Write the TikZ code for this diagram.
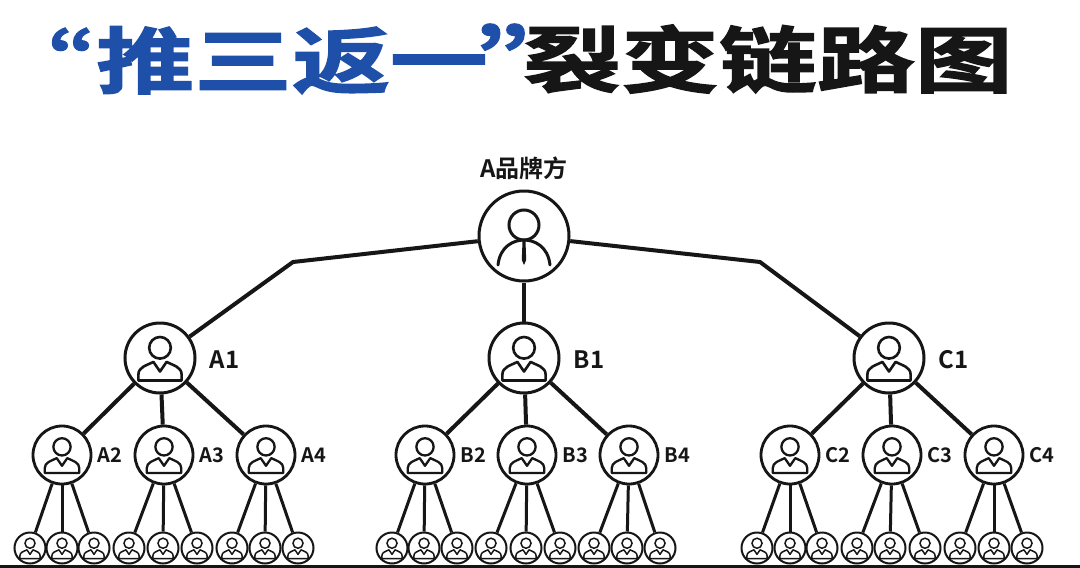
\documentclass[tikz,border=0pt]{standalone}
\usepackage{fontspec}
\usepackage{xcolor}
\usepackage{tikz}
\usetikzlibrary{
  positioning,
  calc
}
\newfontfamily\cjkhead[FakeBold=2,FakeStretch=1.36]{Noto Sans CJK SC Bold}
\newfontfamily\cjkquote[FakeBold=2,FakeStretch=1.36,CharacterWidth=Proportional]{Noto Sans CJK SC Bold}
\newfontfamily\cjklabel{Noto Sans CJK SC Bold}
\definecolor{titleblue}{RGB}{30, 80, 170}
\definecolor{linkblack}{RGB}{22, 22, 22}
\tikzset{
  member/.style={draw=linkblack, fill=white, circle, inner sep=0pt, line width=#1},
  levelroot/.style={member=3pt, minimum size=90pt},
  levelone/.style={member=3pt, minimum size=70pt},
  leveltwo/.style={member=2.8pt, minimum size=58pt},
  levelthree/.style={member=2pt, minimum size=31pt},
  link/.style={draw=linkblack, line width=#1},
  tag/.style={font=\cjklabel\fontsize{20pt}{20pt}\selectfont, text=linkblack, inner sep=0pt},
  headline/.style={anchor=west, inner sep=0pt, font=\cjkhead\fontsize{72pt}{72pt}\selectfont}
}
% bust inside a circle, #2 = centre, #3 = size
\newcommand{\bust}[3][1.8pt]{
  \draw[linkblack, line width=#1] ($(#2)+(0,-0.34*#3)$) circle[radius=0.36*#3];
  \draw[linkblack, line width=#1, line join=round]
    ($(#2)+(-0.72*#3,0.75*#3)$) -- ($(#2)+(-0.72*#3,0.55*#3)$)
    .. controls ($(#2)+(-0.72*#3,0.3*#3)$) and ($(#2)+(-0.45*#3,0.25*#3)$) .. ($(#2)+(-0.22*#3,0.13*#3)$)
    -- ($(#2)+(0,0.45*#3)$) -- ($(#2)+(0.22*#3,0.13*#3)$)
    .. controls ($(#2)+(0.45*#3,0.25*#3)$) and ($(#2)+(0.72*#3,0.3*#3)$) .. ($(#2)+(0.72*#3,0.55*#3)$)
    -- ($(#2)+(0.72*#3,0.75*#3)$) -- cycle;
}
\begin{document}
\begin{tikzpicture}[x=1pt,y=-1pt]
\useasboundingbox (0,0) rectangle (1080,568);
\fill[white] (0,0) rectangle (1080,568);
\fill[linkblack] (0,565) rectangle (1080,568);

% title
\node[headline, text=titleblue] (titleblue) at (96,59)
  {推三返一\hspace{-14pt}{\cjkquote\fontsize{72pt}{72pt}\selectfont ”}};
\node[headline, text=titleblue, anchor=east] (titlequote) at (96,55)
  {\cjkquote\fontsize{62pt}{62pt}\selectfont “};
\node[headline, text=linkblack] (titleblack) at (523,59) {裂变链路图};

% top
\node[levelroot] (root) at (524,236) {};
\node[tag, font=\cjklabel\fontsize{24pt}{24pt}\selectfont, above=10pt of root] (rootlabel) {A品牌方};

% first level
\foreach \name/\xx in {A/160, B/524, C/889} {
  \node[levelone] (\name1) at (\xx,358) {};
  \node[tag, font=\cjklabel\fontsize{24pt}{24pt}\selectfont, right=13pt of \name1, yshift=-2pt] (\name1label) {\name1};
}
\coordinate (bendA) at (293,262);
\coordinate (bendC) at (760,262);
\draw[link=4pt, line join=round] (root) -- (bendA) -- (A1);
\draw[link=4pt] (root) -- (B1);
\draw[link=4pt, line join=round] (root) -- (bendC) -- (C1);

% second level
\foreach \name/\xa/\xb/\xc in {A/62/164/266, B/425/527/629, C/790/892/994} {
  \node[leveltwo] (\name2) at (\xa,455) {};
  \node[leveltwo] (\name3) at (\xb,455) {};
  \node[leveltwo] (\name4) at (\xc,455) {};
  \foreach \kid in {2,3,4} {
    \node[tag, right=5pt of \name\kid] (\name\kid label) {\name\kid};
    \draw[link=4pt] (\name1) -- (\name\kid);
  }
}

% third level
\foreach \parent/\xa/\xb/\xc in {A2/30/62/94, A3/129/163/197, A4/232/265/298,
    B2/392/424/457, B3/491/526/560, B4/594/627/660,
    C2/757/790/822, C3/857/890/925, C4/960/994/1027} {
  \foreach \kid/\xx in {a/\xa, b/\xb, c/\xc} {
    \node[levelthree] (\parent\kid) at (\xx,548) {};
    \draw[link=3pt] (\parent) -- (\parent\kid);
    \bust[1.5pt]{\parent\kid}{14}
  }
}

% busts
\foreach \who in {A1,B1,C1} {\bust[2.6pt]{\who}{30}}
\foreach \who in {A2,A3,A4,B2,B3,B4,C2,C3,C4} {\bust[2.3pt]{\who}{24}}
\draw[linkblack, line width=3pt] ($(root)+(0,-11)$) circle[radius=15];
\draw[linkblack, line width=3pt, line cap=round] ($(root)+(-26,29)$)
  .. controls ($(root)+(-24,10)$) and ($(root)+(-10,4)$) .. ($(root)+(0,4)$)
  .. controls ($(root)+(10,4)$) and ($(root)+(24,10)$) .. ($(root)+(26,29)$);
\fill[linkblack] ($(root)+(-1.5,5)$) -- ($(root)+(1.5,5)$) -- ($(root)+(2.2,24)$)
  -- ($(root)+(0,29)$) -- ($(root)+(-2.2,24)$) -- cycle;
\end{tikzpicture}
\end{document}
